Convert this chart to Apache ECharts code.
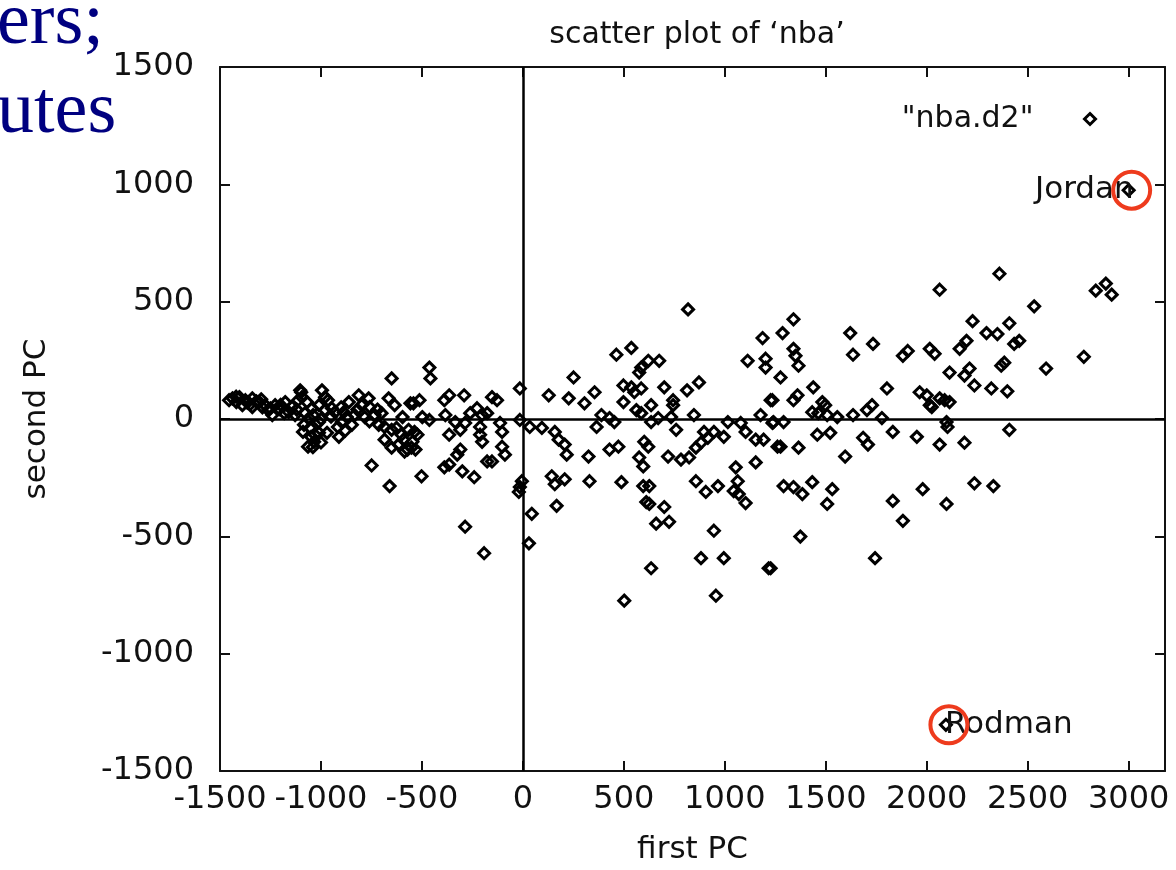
<!DOCTYPE html>
<html>
<head>
<meta charset="utf-8">
<script src="https://cdn.jsdelivr.net/npm/echarts@6/dist/echarts.min.js"></script>
<style>
html,body{margin:0;padding:0;background:#fff;}
#chart{width:1176px;height:870px;}
</style>
</head>
<body>
<div id="chart"></div>
<script>
// ---- data ----
const chartTitle = "scatter plot of \u2018nba\u2019";
const seriesName = '"nba.d2"';
const xAxisName = "first PC";
const yAxisName = "second PC";
const slideFragments = ["ers;", "utes"];
const xTicks = [-1500, -1000, -500, 0, 500, 1000, 1500, 2000, 2500, 3000];
const yTicks = [-1500, -1000, -500, 0, 500, 1000, 1500];

// [first PC, second PC]
const leftCluster = [
  [-1438,88],[-1404,93],[-1374,80],[-1340,88],[-1305,72],[-1276,59],[-1389,59],[-1340,51],[-1241,17],[-1182,25],
  [-1227,59],[-1177,72],[-1143,51],[-1103,122],[-1094,93],[-1069,72],[-1044,46],[-1079,25],[-995,122],[-980,93],
  [-1010,59],[-980,38],[-946,46],[-1084,-25],[-1054,-38],[-1030,-67],[-1034,-97],[-1010,-59],[-1059,4],[-1010,-13],
  [-970,-59],[-911,-76],[-931,29],[-887,29],[-862,72],[-872,8],[-897,-13],[-847,-25],[-813,101],[-798,59],
  [-764,88],[-759,51],[-833,17],[-783,8],[-734,17],[-700,25],[-714,-25],[-685,-34],[-665,88],[-635,59],
  [-650,-46],[-626,-38],[-601,-67],[-566,-46],[-537,-55],[-685,-88],[-650,-122],[-616,-109],[-586,-139],[-552,-122],
  [-591,-88],[-542,67],[-749,-198],[-660,-286],[-502,-244],[-650,173],[-1098,114],
  [-1419,72],[-1350,63],[-1296,84],[-1261,38],[-1207,42],[-1128,17],[-1113,80],[-1039,17],[-965,80],[-916,-34],
  [-1089,-55],[-1049,-76],[-1064,-118],[-1455,80],[-1420,95],[-1365,70],[-1320,75],[-1290,50],[-1250,45],
  [-1200,60],[-1160,30],[-1120,40],[-1000,0],[-950,10],[-900,50],[-820,40],[-760,-10],[-720,40],[-880,-50],
  [-1040,-120],[-1000,-100]
];
const centerCluster = [
  [-463,219],[-458,173],[251,177],[-15,130],[355,114],[128,101],[227,88],[-291,101],[-365,101],[-389,80],
  [-153,93],[-128,80],[305,67],[-557,67],[-512,80],[-227,46],[-261,25],[-202,17],[-177,25],[-384,17],
  [-596,8],[-498,8],[-463,-4],[-335,-13],[-286,-17],[-310,-46],[-113,-17],[-103,-55],[-15,-4],[34,-34],
  [94,-38],[-212,-34],[-212,-67],[-522,-67],[-547,-97],[-571,-130],[-532,-130],[-365,-67],[-202,-97],[158,-55],
  [177,-88],[207,-109],[217,-152],[-103,-118],[-89,-152],[-310,-130],[-325,-152],[325,-160],[-153,-181],[-177,-181],
  [-365,-194],[-389,-206],[-300,-223],[-241,-248],[143,-244],[207,-257],[158,-278],[330,-265],[-5,-265],[-15,-290],
  [-20,-311],[167,-370],[44,-404],[-286,-459],[30,-530],[-192,-572],[365,-34]
];
const midCluster = [
  [818,467],[1187,345],[537,303],[463,274],[621,248],[675,248],[586,219],[576,198],[1113,248],[1202,257],
  [1202,219],[872,156],[498,143],[537,135],[586,130],[552,114],[700,135],[813,122],[744,80],[744,59],
  [1227,80],[498,72],[635,59],[562,38],[586,25],[389,17],[429,4],[453,-13],[635,-13],[670,4],
  [734,8],[847,17],[1015,-13],[1079,-17],[1103,-55],[1177,17],[1236,-17],[759,-46],[897,-55],[946,-55],
  [916,-80],[882,-101],[857,-122],[995,-76],[1153,-88],[1192,-88],[601,-97],[621,-118],[429,-130],[473,-118],
  [1261,-118],[576,-164],[596,-202],[719,-160],[783,-173],[823,-164],[1054,-206],[1153,-185],[488,-269],[857,-265],
  [596,-286],[626,-286],[906,-311],[966,-286],[1064,-265],[1044,-307],[1069,-320],[611,-354],[626,-362],[700,-375],
  [1103,-358],[660,-446],[724,-438],[946,-476],[882,-593],[995,-593],[635,-636],[1217,-636],[956,-753],[502,-774]
];
const rightCluster = [
  [2064,551],[1340,425],[1286,366],[1621,366],[1340,299],[1350,269],[1734,320],[1635,274],[1906,290],[1882,269],
  [2015,299],[2039,278],[1365,227],[2113,198],[1276,177],[1438,135],[1803,130],[1236,80],[1360,101],[1340,80],
  [1483,72],[1497,59],[1965,114],[2000,101],[2015,59],[2064,88],[2113,72],[1729,59],[1704,38],[1433,29],
  [1463,25],[1507,17],[1557,8],[1635,17],[1241,-13],[1291,-13],[1778,4],[2098,-13],[2103,-34],[1458,-67],
  [1522,-59],[1832,-55],[1951,-76],[1685,-80],[1709,-109],[1276,-118],[1365,-122],[2064,-109],[1596,-160],[1433,-269],
  [1291,-286],[1340,-290],[1384,-320],[1532,-299],[1980,-299],[1507,-362],[1832,-349],[2098,-362],[1882,-434],[1374,-501],
  [1744,-593],[1227,-636],[2025,51]
];
const farRight = [
  [2360,619],[2532,480],[2227,417],[2409,408],[2296,366],[2350,362],[2458,333],[2433,320],[2197,333],[2163,299],
  [2887,577],[2837,547],[2916,530],[2778,265],[2384,240],[2369,227],[2591,215],[2212,215],[2187,185],[2236,143],
  [2320,130],[2399,118],[2089,80],[2409,-46],[2187,-101],[2236,-274],[2330,-286]
];
const labeledNames = ["Jordan", "Rodman"];
const labeledValues = [[3000, 975], [2095, -1303]];

// ---- chart ----
const FONT = "DejaVu Sans";
const INK = "#111";
const allPoints = [].concat(leftCluster, centerCluster, midCluster, rightCluster, farRight, labeledValues);
const markerStyle = {color: "rgba(0,0,0,0)", borderColor: "#000", borderWidth: 3, opacity: 1};
const axisLineStyle = {color: INK, width: 2};

function baseX(pos, showLabels) {
  return {
    type: "value", position: pos, min: xTicks[0], max: 3180, interval: 500,
    axisLine: {show: true, onZero: false, lineStyle: axisLineStyle},
    axisTick: {show: true, inside: true, length: 10, lineStyle: axisLineStyle},
    splitLine: {show: false},
    axisLabel: {show: showLabels, margin: 13, fontFamily: FONT, fontSize: 32, color: INK,
      showMaxLabel: false,
      formatter: v => xTicks.includes(v) ? String(v) : ""}
  };
}
function baseY(pos, showLabels) {
  return {
    type: "value", position: pos, min: yTicks[0], max: yTicks[yTicks.length - 1], interval: 500,
    axisLine: {show: true, onZero: false, lineStyle: axisLineStyle},
    axisTick: {show: true, inside: true, length: 10, lineStyle: axisLineStyle},
    splitLine: {show: false},
    axisLabel: {show: showLabels, margin: 26, fontFamily: FONT, fontSize: 32, color: INK,
      formatter: v => String(v)}
  };
}
const xBottom = Object.assign(baseX("bottom", true), {
  name: xAxisName, nameLocation: "middle", nameGap: 63,
  nameTextStyle: {fontFamily: FONT, fontSize: 31, color: INK}
});
const yLeft = Object.assign(baseY("left", true), {
  name: yAxisName, nameLocation: "middle", nameGap: 168,
  nameTextStyle: {fontFamily: FONT, fontSize: 31, color: INK}
});

const option = {
  backgroundColor: "#fff",
  animation: false,
  title: {
    text: chartTitle, left: 692, top: 15, textAlign: "center",
    textStyle: {fontFamily: FONT, fontSize: 30, fontWeight: "normal", color: INK}
  },
  legend: {
    data: [seriesName], right: 74, top: 99, align: "right",
    icon: "diamond",
    itemWidth: 11, itemHeight: 11, itemGap: 0,
    itemStyle: {color: "rgba(0,0,0,0)", borderColor: "#000", borderWidth: 3},
    textStyle: {fontFamily: FONT, fontSize: 30, color: INK, padding: [0, 46, 0, 0]}
  },
  graphic: [
    {type: "text", left: -3, top: -13, style: {text: slideFragments[0], fontFamily: "Liberation Serif", fontSize: 74, fill: "#000080"}},
    {type: "text", left: -3, top: 76, style: {text: slideFragments[1], fontFamily: "Liberation Serif", fontSize: 74, fill: "#000080"}}
  ],
  grid: {left: 220, right: 11, top: 67, bottom: 90, show: false},
  xAxis: [xBottom, baseX("top", false)],
  yAxis: [yLeft, baseY("right", false)],
  series: [
    {
      type: "scatter", name: seriesName, xAxisIndex: 0, yAxisIndex: 0,
      data: allPoints, symbol: "diamond", symbolSize: 11, itemStyle: markerStyle,
      markLine: {
        silent: true, symbol: "none", label: {show: false},
        lineStyle: {color: "#000", width: 2.5, type: "solid", opacity: 1},
        data: [{xAxis: 0}, {yAxis: 0}]
      },
      z: 3
    },
    {
      type: "scatter", name: "labels", xAxisIndex: 0, yAxisIndex: 0,
      data: [
        {name: labeledNames[0], value: labeledValues[0],
          label: {show: true, position: "left", distance: 0, offset: [5, 0]}},
        {name: labeledNames[1], value: labeledValues[1],
          label: {show: true, position: "right", distance: 0, offset: [-1, 0]}}
      ],
      symbolSize: 0,
      itemStyle: {opacity: 1},
      label: {formatter: "{b}", fontFamily: FONT, fontSize: 31, color: INK, opacity: 1},
      z: 4
    },
    {
      type: "scatter", name: "highlight", xAxisIndex: 0, yAxisIndex: 0,
      data: labeledValues, symbol: "circle", symbolSize: 37,
      itemStyle: {color: "rgba(0,0,0,0)", borderColor: "#ee3b1d", borderWidth: 4, opacity: 1},
      symbolOffset: [3, 0],
      z: 5
    }
  ]
};
const chart = echarts.init(document.getElementById("chart"), null, {renderer: "canvas"});
chart.setOption(option);
</script>
</body>
</html>
